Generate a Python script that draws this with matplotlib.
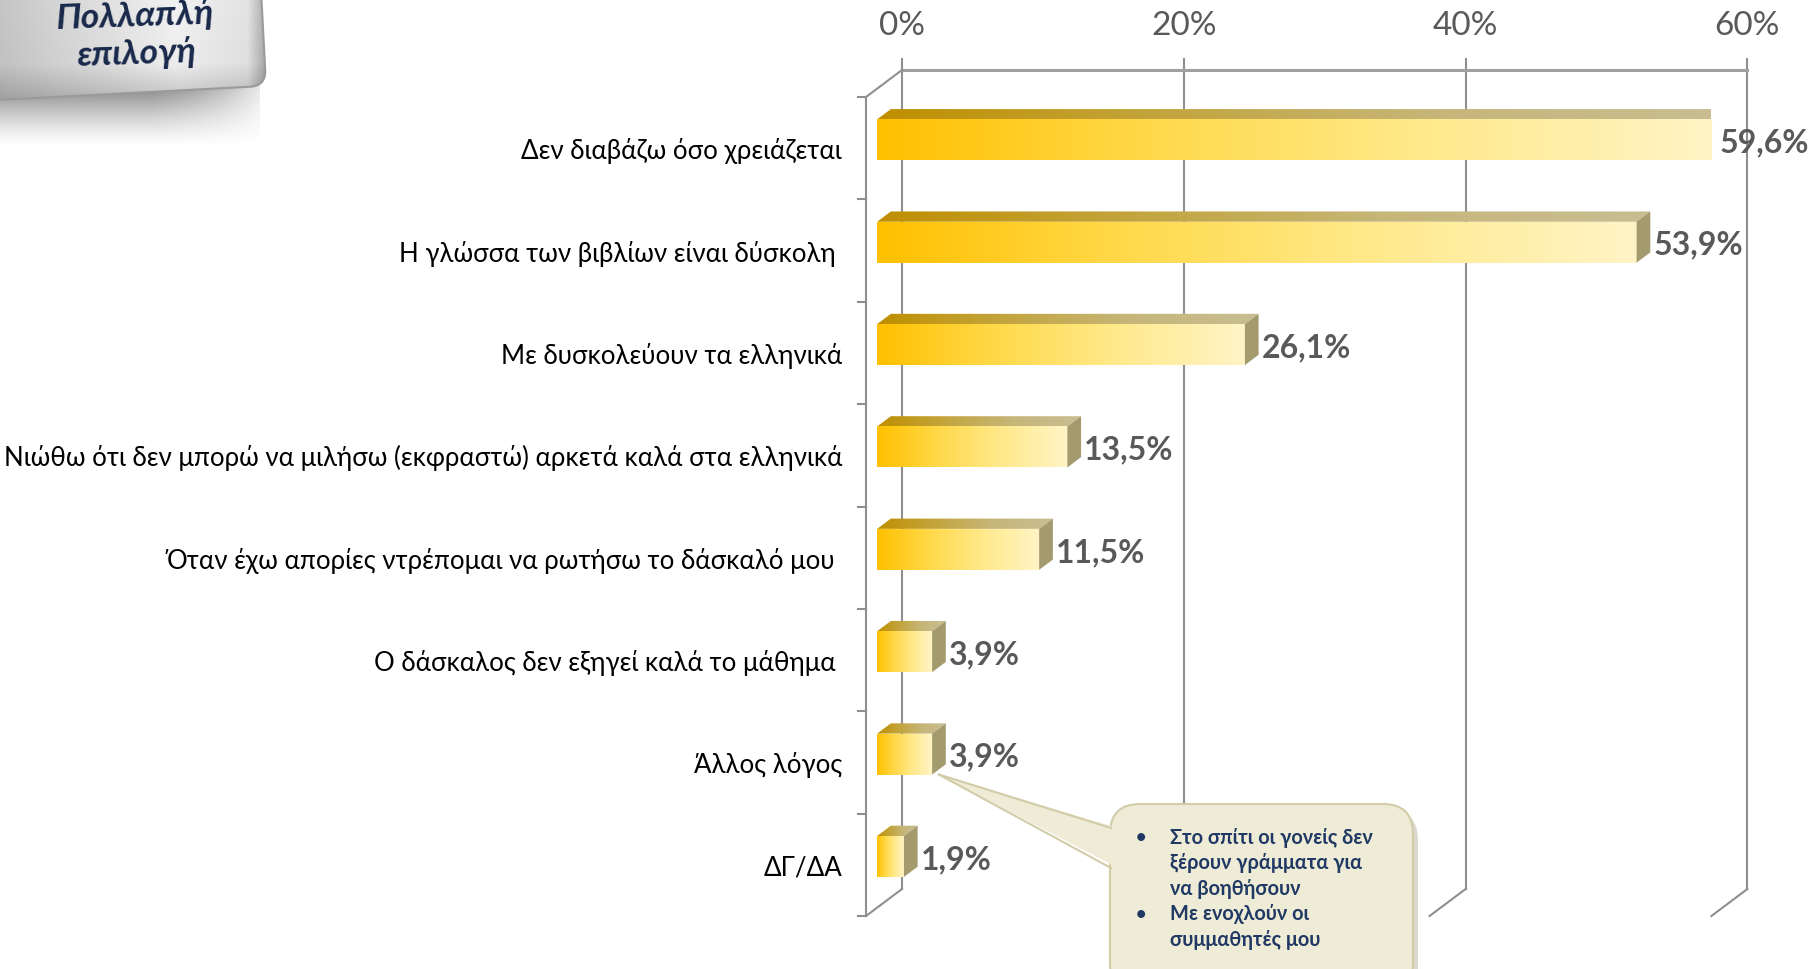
import numpy as np
import matplotlib
matplotlib.use('Agg')
import matplotlib.pyplot as plt
from matplotlib.patches import Polygon, FancyBboxPatch
from matplotlib.colors import LinearSegmentedColormap
from matplotlib.transforms import Affine2D

categories = ['Δεν διαβάζω όσο χρειάζεται',
              'Η γλώσσα των βιβλίων είναι δύσκολη ',
              'Με δυσκολεύουν τα ελληνικά',
              'Νιώθω ότι δεν μπορώ να μιλήσω (εκφραστώ) αρκετά καλά στα ελληνικά',
              'Όταν έχω απορίες ντρέπομαι να ρωτήσω το δάσκαλό μου ',
              'Ο δάσκαλος δεν εξηγεί καλά το μάθημα ',
              'Άλλος λόγος',
              'ΔΓ/ΔΑ']
values = [59.6, 53.9, 26.1, 13.5, 11.5, 3.9, 3.9, 1.9]
ticks = [0, 20, 40, 60]
tick_labels = ['0%', '20%', '40%', '60%']
badge_text = 'Πολλαπλή\nεπιλογή'
callout_items = ['Στο σπίτι οι γονείς δεν\nξέρουν γράμματα για\nνα βοηθήσουν',
                 'Με ενοχλούν οι\nσυμμαθητές μου']

W, H = 1816, 970
fig = plt.figure(figsize=(W / 100, H / 100), dpi=100)
fig.patch.set_facecolor('white')

# main axes: x in %, y in category index (front plane)
px_per_pct = 14.09
px_per_cat = 102.375
left_px, top_px = 866, 98
ax = fig.add_axes([left_px / W, (H - top_px - 8 * px_per_cat) / H,
                   60 * px_per_pct / W, 8 * px_per_cat / H])
ax.axis('off')

# depth of the 3d box
ddx = 36 / px_per_pct
ddy = -27 / px_per_cat
fb, bb = 0.31, 0.69
half_h = 0.2

grid_c = '#8f8f8f'
# back wall gridlines + top ticks
for t in ticks:
    ax.plot([t + ddx, t + ddx], [-0.5 + ddy - 0.11, 7.5 + ddy], color=grid_c, lw=1.5, zorder=1,
            clip_on=False)
    ax.plot([t, t + ddx], [7.5, 7.5 + ddy], color=grid_c, lw=1.5, zorder=1, clip_on=False)
ax.plot([ddx, 60 + ddx], [-0.5 + ddy, -0.5 + ddy], color='#a0a0a0', lw=2.2, zorder=1, clip_on=False)
ax.plot([0, ddx], [-0.5, -0.5 + ddy], color=grid_c, lw=1.5, zorder=1, clip_on=False)
# front vertical axis with ticks
ax.plot([0, 0], [-0.5, 7.5], color=grid_c, lw=1.5, zorder=1, clip_on=False)
for k in range(len(categories) + 1):
    ax.plot([-0.55, 0], [k - 0.5, k - 0.5], color=grid_c, lw=1.5, zorder=1, clip_on=False)

for t, lab in zip(ticks, tick_labels):
    ax.text(t + ddx, -1.2, lab, ha='center', va='center', fontsize=24,
            family='Lato', color='#595959')

front_cm = LinearSegmentedColormap.from_list('front', ['#FFC000', '#FFDA4C', '#FFEA8E', '#FFF4C6'])
top_cm = LinearSegmentedColormap.from_list('top', ['#BF8F00', '#C3A53E', '#C6B67A', '#C8BE92'])
grad = np.linspace(0, 1, 256)[None, :]

for i, (cat, v) in enumerate(zip(categories, values)):
    x0 = fb * ddx
    yc = i + fb * ddy
    yt, yb = yc - half_h, yc + half_h
    dx = (bb - fb) * ddx
    dy = (bb - fb) * ddy
    # front face
    ax.imshow(grad, cmap=front_cm, extent=[x0, x0 + v, yb, yt], aspect='auto',
              interpolation='bilinear', zorder=3)
    # top face
    top_pts = [(x0, yt), (x0 + v, yt), (x0 + v + dx, yt + dy), (x0 + dx, yt + dy)]
    top_poly = Polygon(top_pts, closed=True, transform=ax.transData)
    im = ax.imshow(grad, cmap=top_cm, extent=[x0, x0 + v + dx, yt, yt + dy], aspect='auto',
                   interpolation='bilinear', zorder=3)
    im.set_clip_path(top_poly)
    # right face
    side = [(x0 + v, yt), (x0 + v + dx, yt + dy), (x0 + v + dx, yb + dy), (x0 + v, yb)]
    ax.add_patch(Polygon(side, closed=True, facecolor='#A39A6E', edgecolor='none', zorder=3))
    # value label (kept inside the chart area like the original)
    lx = min(x0 + v + dx + 0.2, 60.6)
    ax.text(lx, yc + 0.02, ('%.1f%%' % v).replace('.', ','), ha='left',
            va='center', fontsize=23, fontweight='bold', family='Lato', color='#595959', zorder=5)
    # category label
    ax.text(-24 / px_per_pct, i + 0.02, cat, ha='right', va='center', fontsize=18.6,
            family='Lato', color='black')

ax.set_xlim(0, 60)
ax.set_ylim(7.5, -0.5)

# overlay in pixel coordinates for badge and callout
ov = fig.add_axes([0, 0, 1, 1])
ov.set_xlim(0, W)
ov.set_ylim(H, 0)
ov.axis('off')

# badge shadow
sh = np.zeros((60, 260, 4))
fy = np.linspace(1, 0, 60)[:, None] ** 1.4
fx = np.clip(1.2 - np.linspace(0, 1, 260)[None, :] ** 3, 0, 1)
sh[..., 3] = 0.5 * fy * fx
ov.imshow(sh, extent=[0, 260, 150, 85], aspect='auto', interpolation='bilinear', zorder=1)

rot = Affine2D().rotate_deg_around(130, 90, -3.0) + ov.transData
badge = FancyBboxPatch((-40, -40), 306, 134, boxstyle='round,pad=0,rounding_size=16',
                       facecolor='none', edgecolor='#9a9a9a', lw=1.5, transform=rot, zorder=3)
ov.add_patch(badge)
hx = np.interp(np.linspace(0, 1, 300), [0, 0.3, 0.7, 0.93, 1.0], [0.74, 0.84, 0.96, 0.9, 0.62])
vy = np.interp(np.linspace(0, 1, 120), [0, 0.75, 1.0], [1.0, 0.97, 0.8])
bimg = np.clip(vy[:, None] * hx[None, :], 0, 1)
bim = ov.imshow(np.dstack([bimg] * 3), extent=[-40, 270, 100, -40], aspect='auto',
                interpolation='bilinear', zorder=2)
bim.set_clip_path(badge)
ov.text(136, 35, badge_text, ha='center', va='center', fontsize=25.5, fontweight='bold',
        style='italic', family='Lato', color='#18284A', linespacing=1.2, rotation=2, zorder=4)

# callout pointing at the "Άλλος λόγος" bar
tip_disp = ax.transData.transform((fb * ddx + values[6] + 0.5 * (bb - fb) * ddx, 6 + fb * ddy + half_h))
tip = (tip_disp[0], H - tip_disp[1])
box_x, box_y, box_w, box_h = 1110, 805, 303, 190
ov.add_patch(FancyBboxPatch((box_x + 5, box_y + 6), box_w, box_h,
                            boxstyle='round,pad=0,rounding_size=30', facecolor='#b8b4a0',
                            edgecolor='none', alpha=0.5, zorder=5))
cbox = FancyBboxPatch((box_x, box_y), box_w, box_h, boxstyle='round,pad=0,rounding_size=30',
                      facecolor='#EEEBD6', edgecolor='#D2CCA8', lw=1.5, zorder=6)
ov.add_patch(cbox)
ov.add_patch(Polygon([tip, (box_x + 8, 829), (box_x + 8, 869)], closed=True,
                     facecolor='#EEEBD6', edgecolor='none', zorder=7))
ov.plot([tip[0], box_x + 1], [tip[1], 829], color='#D2CCA8', lw=1.5, zorder=7)
ov.plot([tip[0], box_x + 1], [tip[1], 869], color='#D2CCA8', lw=1.5, zorder=7)

line_y = 838
for item in callout_items:
    ov.text(1141, line_y, '•', ha='center', va='center', fontsize=13, fontweight='bold',
            family='Lato', color='#1F3864', zorder=8)
    for ln in item.split('\n'):
        ov.text(1170, line_y, ln, ha='left', va='center', fontsize=14.3, fontweight='bold',
                family='Lato', color='#1F3864', zorder=8)
        line_y += 25.5

fig.savefig('out.png', dpi=100, facecolor='white')
